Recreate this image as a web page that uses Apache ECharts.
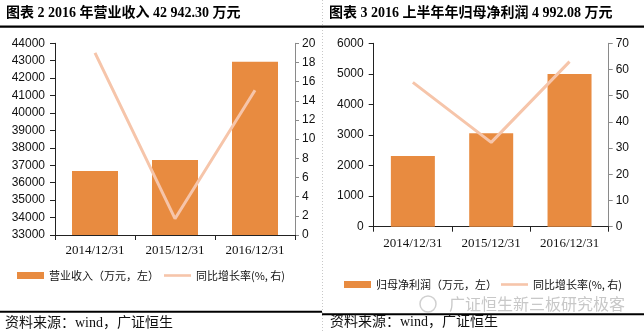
<!DOCTYPE html>
<html>
<head>
<meta charset="utf-8">
<script src="https://cdn.jsdelivr.net/npm/echarts@6/dist/echarts.min.js"></script>
<style>html,body{margin:0;padding:0;background:#fff}#c{width:644px;height:333px}</style>
</head>
<body>
<div id="c"></div>
<script>
// ---- data ----
var categories = ['2014/12/31', '2015/12/31', '2016/12/31'];
var revenue = [36670, 37310, 42942.30];
var revenueGrowth = [19.0, 1.7, 15.1];
var profit = [2314, 3055, 4992.08];
var profitGrowth = [55.1, 32.2, 63.0];
var title1 = '图表 2 2016 年营业收入 42 942.30 万元';
var title2 = '图表 3 2016 上半年年归母净利润 4 992.08 万元';
var revName = '营业收入（万元，左）';
var profName = '归母净利润（万元，左）';
var growthName = '同比增长率(%, 右)';
var sourceText = '资料来源：wind，广证恒生';
var watermark = '广证恒生新三板研究极客';

var BAR = '#E88B40', LINE = '#F6C5AA';
var chart = echarts.init(document.getElementById('c'), null, {renderer: 'canvas'});
var serif = "'Liberation Serif', 'Noto Sans CJK SC'";
var sans = "'Liberation Sans', 'Noto Sans CJK SC'";
var plain = function (v) { return String(v); };

function xAxis(gi) {
  return {
    type: 'category', gridIndex: gi, data: categories,
    axisLine: {lineStyle: {color: '#222', width: 1}},
    axisTick: {show: true, length: 5, lineStyle: {color: '#222'}},
    axisLabel: {fontFamily: serif, fontSize: 13, color: '#111', margin: gi === 0 ? 9 : 10}
  };
}
function yAxisL(gi, min, max, itv) {
  return {
    type: 'value', gridIndex: gi, min: min, max: max, interval: itv, position: 'left',
    splitLine: {show: false},
    axisLine: {show: true, lineStyle: {color: '#222'}},
    axisTick: {show: true, length: 5, lineStyle: {color: '#222'}},
    axisLabel: {fontFamily: sans, fontSize: 12, color: '#111', margin: 10, formatter: plain}
  };
}
function yAxisR(gi, min, max, itv) {
  return {
    type: 'value', gridIndex: gi, min: min, max: max, interval: itv, position: 'right',
    splitLine: {show: false},
    axisLine: {show: true, lineStyle: {color: '#8a8a8a'}},
    axisTick: {show: true, length: 4, lineStyle: {color: '#8a8a8a'}},
    axisLabel: {fontFamily: sans, fontSize: 12, color: '#111', margin: 7, formatter: plain}
  };
}

var legendText = {fontFamily: "'Noto Sans CJK SC'", fontSize: 11, color: '#111'};
var lineIcon = 'path://M0,0 L27,0 L27,2.6 L0,2.6 Z';

chart.setOption({
  animation: false,
  grid: [
    {left: 55, right: 349, top: 43.3, bottom: 98},
    {left: 373.7, right: 35.3, top: 43.3, bottom: 106.3}
  ],
  xAxis: [xAxis(0), xAxis(1)],
  yAxis: [
    yAxisL(0, 33000, 44000, 1000), yAxisR(0, 0, 20, 2),
    yAxisL(1, 0, 6000, 1000), yAxisR(1, 0, 70, 10)
  ],
  legend: [
    {left: 12, top: 265, itemWidth: 27, itemHeight: 7, itemGap: 5, textStyle: legendText,
     data: [{name: revName, icon: 'rect'}, {name: growthName, icon: lineIcon}]},
    {left: 339, top: 274, itemWidth: 27, itemHeight: 7, itemGap: 4, textStyle: legendText,
     data: [{name: profName, icon: 'rect'}, {name: growthName, icon: lineIcon}]}
  ],
  series: [
    {name: revName, type: 'bar', xAxisIndex: 0, yAxisIndex: 0, data: revenue, barWidth: 46,
     itemStyle: {color: BAR}},
    {name: growthName, type: 'line', xAxisIndex: 0, yAxisIndex: 1, data: revenueGrowth,
     symbol: 'none', lineStyle: {color: LINE, width: 3}, itemStyle: {color: LINE}},
    {name: profName, type: 'bar', xAxisIndex: 1, yAxisIndex: 2, data: profit, barWidth: 44,
     itemStyle: {color: BAR}},
    {name: growthName, type: 'line', xAxisIndex: 1, yAxisIndex: 3, data: profitGrowth,
     symbol: 'none', lineStyle: {color: LINE, width: 3}, itemStyle: {color: LINE}}
  ],
  graphic: [
    {type: 'line', shape: {x1: 322.5, y1: 0, x2: 322.5, y2: 333}, style: {stroke: '#c8c8c8', lineWidth: 1, lineDash: [1, 2]}},
    {type: 'text', x: 6, y: 13, style: {text: title1, fontFamily: serif, fontWeight: 'bold', fontSize: 14, fill: '#000', verticalAlign: 'middle'}},
    {type: 'text', x: 329, y: 13, style: {text: title2, fontFamily: serif, fontWeight: 'bold', fontSize: 14, fill: '#000', verticalAlign: 'middle'}},
    {type: 'rect', shape: {x: 0, y: 25.5, width: 644, height: 2.2}, style: {fill: '#000'}},
    {type: 'text', x: 449, y: 304, style: {text: watermark, fontFamily: "'Noto Sans CJK SC'", fontSize: 16, fill: '#c8c8c8', verticalAlign: 'middle'}},
    {type: 'circle', shape: {cx: 428, cy: 304, r: 8}, style: {fill: 'none', stroke: '#d0d0d0', lineWidth: 1.5}},
    {type: 'rect', shape: {x: 0, y: 310.8, width: 322, height: 2}, style: {fill: '#000'}},
    {type: 'rect', shape: {x: 322, y: 313.3, width: 322, height: 2}, style: {fill: '#000'}},
    {type: 'text', x: 5, y: 323, style: {text: sourceText, fontFamily: serif, fontSize: 14, fill: '#111', verticalAlign: 'middle'}},
    {type: 'text', x: 330, y: 322, style: {text: sourceText, fontFamily: serif, fontSize: 14, fill: '#111', verticalAlign: 'middle'}}
  ]
});
</script>
</body>
</html>
